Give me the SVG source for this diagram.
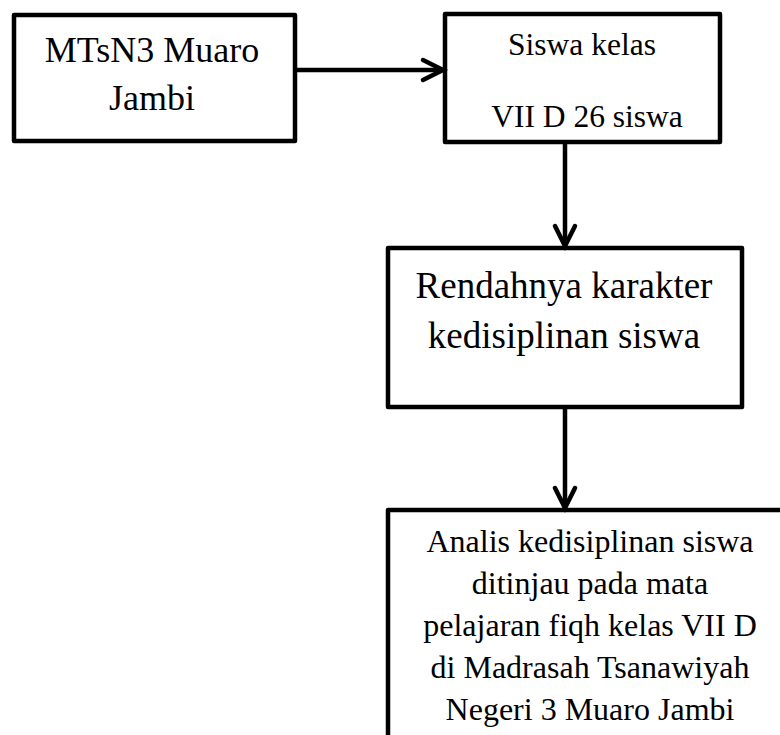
<svg xmlns="http://www.w3.org/2000/svg" width="780" height="735" viewBox="0 0 780 735">
<style>
.box{fill:#fff;stroke:#000;stroke-width:4.5;stroke-linejoin:round}
.lbl{font-family:"Liberation Serif","Times New Roman",serif;fill:#000;text-anchor:middle}
.con{stroke:#000;stroke-width:4.5;fill:none}
</style>
<defs>
<marker id="arr" markerUnits="userSpaceOnUse" viewBox="-24 -14 28 28" refX="0" refY="0" markerWidth="28" markerHeight="28" orient="auto" overflow="visible">
<path d="M -20 -10 L 0 0 L -20 10" fill="none" stroke="#000" stroke-width="4.5" stroke-linecap="round" stroke-linejoin="miter"/>
</marker>
</defs>
<rect width="780" height="735" fill="#fff"/>
<g id="n1">
<rect class="box" x="14" y="15" width="281" height="126"/>
<text class="lbl" x="152" y="62" font-size="36">MTsN3 Muaro</text>
<text class="lbl" x="152" y="110" font-size="36">Jambi</text>
</g>
<g id="n2">
<rect class="box" x="445" y="14" width="275" height="128"/>
<text class="lbl" x="582" y="55" font-size="31.5">Siswa kelas</text>
<text class="lbl" x="587" y="127" font-size="31.5">VII D 26 siswa</text>
</g>
<g id="n3">
<rect class="box" x="388" y="248" width="354" height="159"/>
<text class="lbl" x="564" y="298" font-size="37">Rendahnya karakter</text>
<text class="lbl" x="564" y="348" font-size="37">kedisiplinan siswa</text>
</g>
<g id="n4">
<rect class="box" x="388" y="510" width="420" height="260"/>
<text class="lbl" x="590" y="552" font-size="32">Analis kedisiplinan siswa</text>
<text class="lbl" x="590" y="594" font-size="32">ditinjau pada mata</text>
<text class="lbl" x="590" y="636" font-size="32">pelajaran fiqh kelas VII D</text>
<text class="lbl" x="590" y="678" font-size="32">di Madrasah Tsanawiyah</text>
<text class="lbl" x="590" y="720" font-size="32">Negeri 3 Muaro Jambi</text>
</g>
<g id="connectors">
<line class="con" x1="297" y1="70" x2="443" y2="70" marker-end="url(#arr)"/>
<line class="con" x1="565" y1="144" x2="565" y2="246" marker-end="url(#arr)"/>
<line class="con" x1="565" y1="409" x2="565" y2="508" marker-end="url(#arr)"/>
</g>
</svg>
